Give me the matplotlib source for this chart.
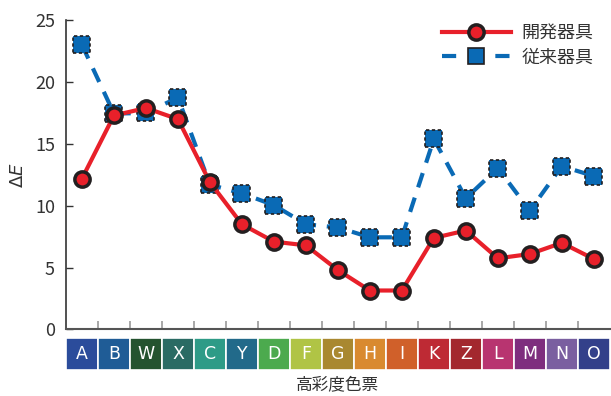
import matplotlib
matplotlib.use("Agg")
import matplotlib.pyplot as plt
from matplotlib.patches import Rectangle
from matplotlib.lines import Line2D
from matplotlib.legend_handler import HandlerTuple
import matplotlib.transforms as mtransforms

plt.rcParams['font.family'] = ['Noto Sans CJK JP', 'DejaVu Sans']

chips = ["A", "B", "W", "X", "C", "Y", "D", "F", "G", "H", "I", "K", "Z", "L", "M", "N", "O"]
chip_colors = ["#2B4C9B", "#1F5C96", "#24532F", "#2A6B64", "#2E9B87", "#226A8A",
               "#4CAA4E", "#B0C445", "#A98830", "#D98A30", "#D0602A", "#BE2A34",
               "#A3282E", "#B83470", "#7E2E7E", "#7A5FA0", "#33408A"]
new_tool = [12.2, 17.3, 17.9, 17.0, 11.9, 8.5, 7.1, 6.8, 4.8, 3.15, 3.15, 7.4, 8.0, 5.75, 6.1, 7.0, 5.7]
old_tool = [23.0, 17.45, 17.5, 18.75, 11.7, 11.0, 10.05, 8.5, 8.25, 7.45, 7.45, 15.4, 10.6, 13.05, 9.6, 13.2, 12.4]
labels = ["開発器具", "従来器具"]

red = "#E8202A"
blue = "#0A6AB5"
edge = "#231F20"

fig = plt.figure(figsize=(6.11, 3.96), dpi=100)
ax = fig.add_axes([0.108, 0.168, 0.89, 0.781])

x = list(range(len(chips)))

# 従来器具: dashed line, squares with dashed outline drawn as a scatter
l_old, = ax.plot(x, old_tool, color=blue, lw=3, ls=(0, (3.6, 2.6)), zorder=2)
ax.scatter(x, old_tool, marker='s', s=150, c=blue, edgecolors=edge,
           linewidths=1.2, linestyles=(0, (2, 1.5)), zorder=3)

# 開発器具: solid red line with circles
l_new, = ax.plot(x, new_tool, color=red, lw=3, marker='o', ms=11,
                 mfc=red, mec=edge, mew=2.5, zorder=4)

ax.set_xlim(-0.5, len(chips) - 0.5)
ax.set_ylim(0, 25)
ax.set_yticks([0, 5, 10, 15, 20, 25])
ax.set_xticks([i + 0.5 for i in range(len(chips) - 1)])
ax.set_xticklabels([])
ax.tick_params(axis='y', direction='in', length=5, width=1, color='#333333',
               labelsize=13, labelcolor='#333333', pad=8)
ax.tick_params(axis='x', direction='in', length=6, width=1.2, color='#999999')

for side in ['top', 'right']:
    ax.spines[side].set_visible(False)
ax.spines['left'].set_color('#333333')
ax.spines['left'].set_linewidth(1.2)
ax.spines['bottom'].set_color('#555555')
ax.spines['bottom'].set_linewidth(1.5)

ax.set_ylabel(r'$\Delta E$', fontsize=13, color='#333333', labelpad=6)

# colour chips under the axis
trans = mtransforms.blended_transform_factory(ax.transData, ax.transAxes)
box_bottom = -0.131
box_h = 0.104
for i, (name, col) in enumerate(zip(chips, chip_colors)):
    ax.add_patch(Rectangle((i - 0.5, box_bottom), 1, box_h, transform=trans,
                           facecolor=col, edgecolor='white', lw=1.2, clip_on=False))
    ax.text(i, box_bottom + box_h / 2, name, transform=trans, ha='center', va='center',
            color='white', fontsize=12.5, fontfamily='DejaVu Sans', clip_on=False)

ax.text(0.5, -0.18, "高彩度色票", transform=ax.transAxes, ha='center', va='center',
        fontsize=12, color='#333333')

# legend entry for 従来器具: sparse dashes with a centred square
leg_dash = Line2D([], [], color=blue, lw=3, ls=(0, (3.4, 9.4)))
leg_mark = Line2D([], [], ls='none', marker='s', ms=12, mfc=blue, mec=edge, mew=1.2)
leg = ax.legend([l_new, (leg_dash, leg_mark)], labels, loc='upper right',
                bbox_to_anchor=(1.0, 1.04), frameon=False, fontsize=13,
                handlelength=3.8, handletextpad=0.6, labelspacing=0.35,
                handler_map={tuple: HandlerTuple(ndivide=1)})
for t in leg.get_texts():
    t.set_color('#333333')

fig.savefig("out.png", dpi=100)
